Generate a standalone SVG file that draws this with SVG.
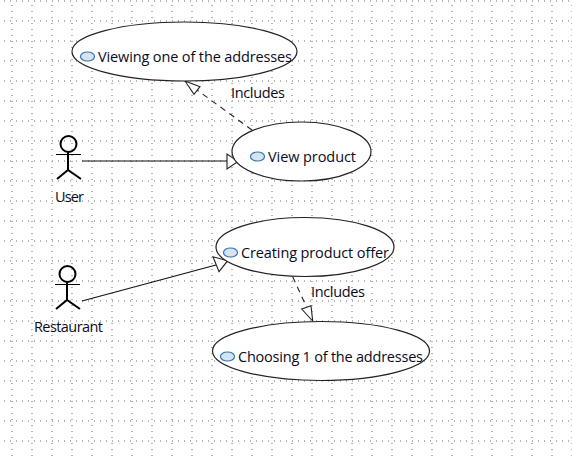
<svg xmlns="http://www.w3.org/2000/svg" width="572" height="458" viewBox="0 0 572 458">
<style>
text{font-family:"Open Sans","Noto Sans","Liberation Sans",sans-serif;font-size:14.5px;fill:#0a0a1e}
.uc{fill:#fff;stroke:#222;stroke-width:1.2}
.ic{fill:#d6e4f2;stroke:#2f74b5;stroke-width:1.2}
.ln{fill:none;stroke:#111;stroke-width:1.1}
.dash{fill:none;stroke:#222;stroke-width:1.1;stroke-dasharray:6 5}
.hd{fill:#fff;stroke:#222;stroke-width:1.1}
.act{fill:none;stroke:#000;stroke-width:2}
.arm{fill:none;stroke:#000;stroke-width:1}
</style>
<defs>
<pattern id="dotsA" width="6" height="20" patternUnits="userSpaceOnUse"><rect x="4" y="0" width="1" height="2" fill="#b4b4b4"/></pattern>
<pattern id="dotsB" width="20" height="6" patternUnits="userSpaceOnUse"><rect x="11" y="5" width="2" height="1" fill="#b4b4b4"/></pattern>
</defs>
<rect width="572" height="458" fill="#fff"/>
<rect width="572" height="458" fill="url(#dotsA)"/>
<rect width="572" height="458" fill="url(#dotsB)"/>
<g id="connectors">
<path class="dash" d="M252 130L197 90"/>
<path class="hd" d="M185 81L200 86.7L194 94.3Z"/>
<path class="ln" d="M82 161H227"/>
<path class="hd" d="M227 154V169L238 161.4Z"/>
<path class="ln" d="M82 301L216 265"/>
<path class="hd" d="M227.7 260.7L213 256.7L219 271.7Z"/>
<path class="dash" d="M292.7 276.7L307 308"/>
<path class="hd" d="M312.7 321L301.7 309L311 305.7Z"/>
</g>
<g id="uc-view-address">
<ellipse class="uc" cx="184.5" cy="51.5" rx="112.5" ry="29.5"/>
<ellipse class="ic" cx="87.5" cy="56.5" rx="7" ry="4.5"/>
<text x="98" y="62" textLength="194">Viewing one of the addresses</text>
</g>
<g id="uc-view-product">
<ellipse class="uc" cx="301.5" cy="151.5" rx="69.5" ry="29.5"/>
<ellipse class="ic" cx="257.5" cy="156.5" rx="7" ry="4.5"/>
<text x="268" y="162" textLength="88">View product</text>
</g>
<g id="uc-create-offer">
<ellipse class="uc" cx="305" cy="247" rx="89" ry="29.5"/>
<ellipse class="ic" cx="230.5" cy="252.5" rx="7" ry="4.5"/>
<text x="241" y="258" textLength="148">Creating product offer</text>
</g>
<g id="uc-choose-address">
<ellipse class="uc" cx="321" cy="351" rx="108.5" ry="29.5"/>
<ellipse class="ic" cx="227.5" cy="356.5" rx="7" ry="4.5"/>
<text x="238" y="362" textLength="185">Choosing 1 of the addresses</text>
</g>
<g id="actor-user">
<circle class="act" cx="68.5" cy="144" r="8"/>
<path class="arm" d="M56 154.5H81"/>
<path class="act" d="M68 152V170M57 179L68 170L81 179"/>
<text x="55" y="202" textLength="29">User</text>
</g>
<g id="actor-restaurant">
<circle class="act" cx="67.5" cy="274" r="8"/>
<path class="arm" d="M55 284.5H80"/>
<path class="act" d="M67 282V300M56 309L67 300L80 309"/>
<text x="34" y="332" textLength="69">Restaurant</text>
</g>
<g id="labels">
<text x="231" y="98" textLength="54">Includes</text>
<text x="311" y="297" textLength="54">Includes</text>
</g>
</svg>
